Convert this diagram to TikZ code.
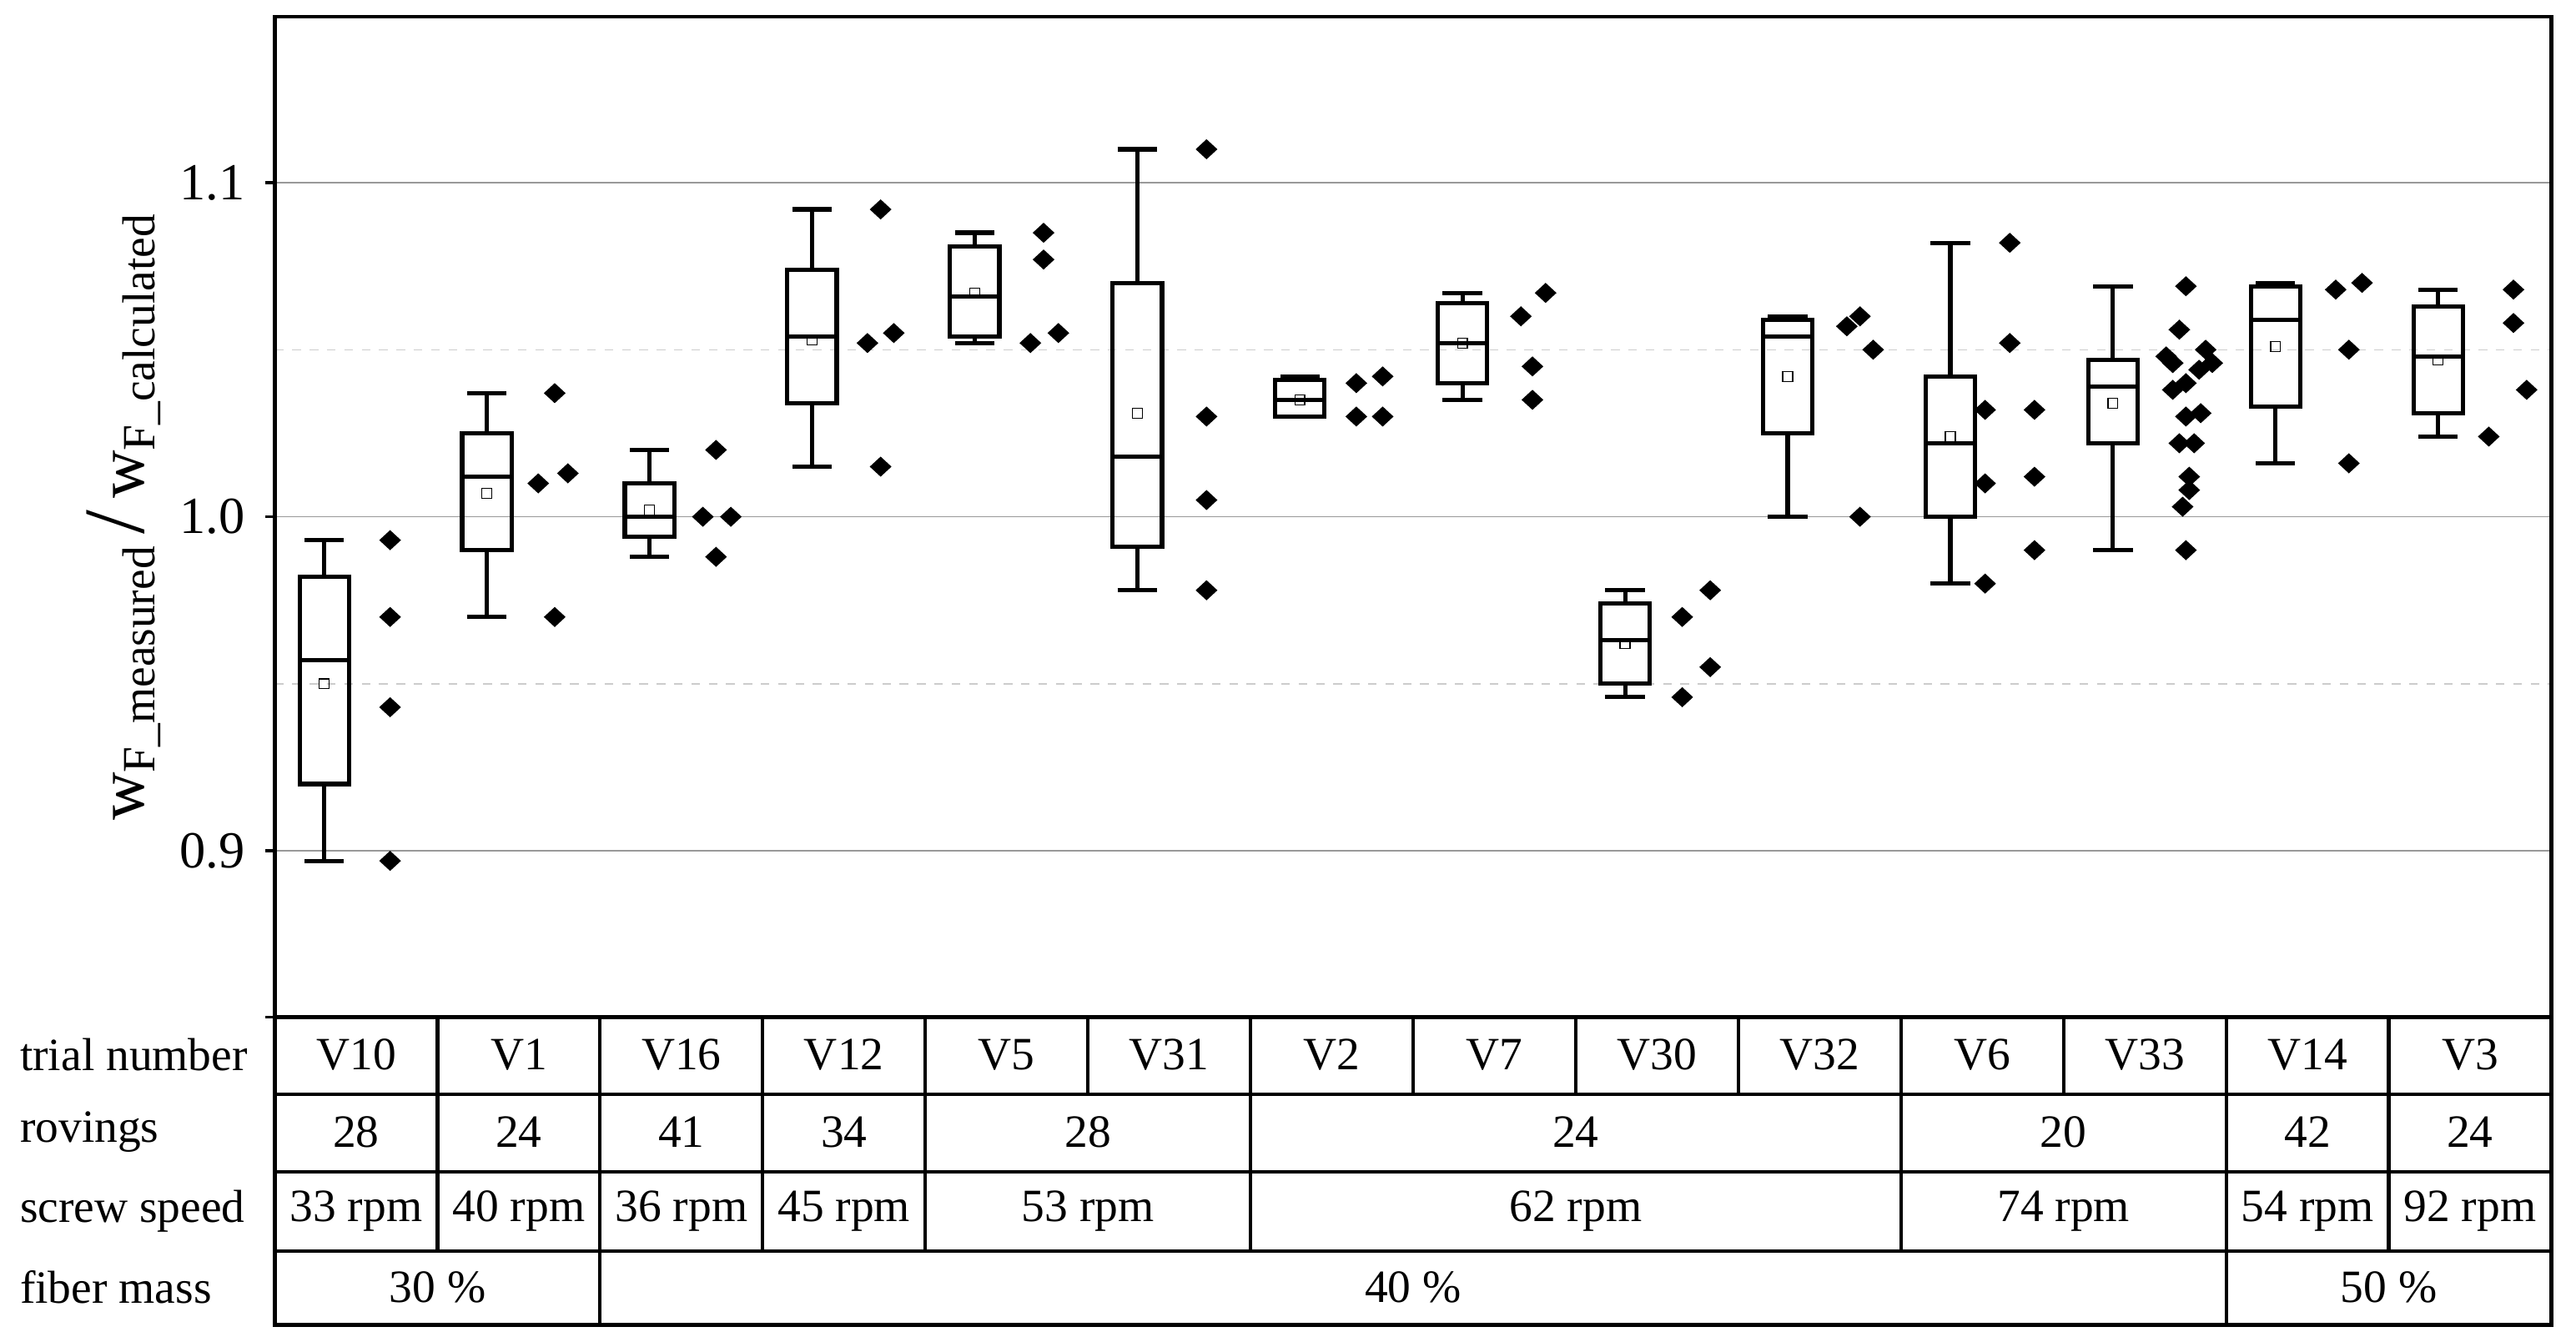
\documentclass[tikz,border=0pt]{standalone}
\usepackage{fontspec}
\setmainfont{Liberation Serif}
\usetikzlibrary{shapes.geometric}
\begin{document}
\begin{tikzpicture}[x=0.02cm,y=0.02cm,
  declare function={vy(\v)=-314+(\v-1)*2030;},
  dia/.style={diamond,fill=black,inner sep=0pt,minimum width=0.27cm,minimum height=0.25cm},
  bxl/.style={line width=1.5pt},
  cell/.style={font=\fontsize{16}{18}\selectfont},
  tick/.style={font=\fontsize{18}{20}\selectfont,anchor=east}]
\useasboundingbox (0,0) rectangle (1565,-815);
\def\L{167}\def\R{1550}\def\W{98.7857}
% grid
\foreach \v in {0.9,1.0,1.1}{\draw[gray!80,line width=0.5pt] (\L,{vy(\v)}) -- (\R,{vy(\v)});}
\foreach \v in {0.95,1.05}{\draw[gray!40,dashed,line width=0.4pt] (\L,{vy(\v)}) -- (\R,{vy(\v)});}
\foreach \v in {0.9,1.0,1.1}{\node[tick] at (155,{vy(\v)}) {\v};
  \draw[line width=1pt] (\L,{vy(\v)}) -- (\L-6,{vy(\v)});}
\draw[line width=1pt] (\L,-618) -- (\L-6,-618);
% axis label
\node[rotate=90] (yl) at (75,-314) {\fontsize{23}{25}\selectfont w\textsubscript{\fontsize{16}{16}\selectfont F\_measured}\,{\fontsize{30}{30}\selectfont/}\,w\textsubscript{\fontsize{16}{16}\selectfont F\_calculated}};
% frame
\draw[line width=1.2pt] (\L,-10) -- (\R,-10) -- (\R,-805) -- (\L,-805) -- cycle;
\foreach \y in {618,665,712,760}{\draw[line width=1.2pt] (\L,-\y) -- (\R,-\y);}
% table verticals
\foreach \i in {1,...,13}{\draw[line width=1.2pt] (\L+\i*\W,-618) -- (\L+\i*\W,-665);}
\foreach \i in {1,2,3,4,6,10,12,13}{\draw[line width=1.2pt] (\L+\i*\W,-665) -- (\L+\i*\W,-760);}
\foreach \i in {2,12}{\draw[line width=1.2pt] (\L+\i*\W,-760) -- (\L+\i*\W,-805);}
% row labels
\foreach \t/\y in {trial number/641,rovings/688,screw speed/736,fiber mass/782}{\node[cell,anchor=west] at (6,-\y) {\t};}
\foreach \t [count=\i from 0] in {V10,V1,V16,V12,V5,V31,V2,V7,V30,V32,V6,V33,V14,V3}{\node[cell] (tn\i) at (\L+\i*\W+\W/2,-641) {\t};}
\foreach \a/\b/\t in {0/1/28,1/2/24,2/3/41,3/4/34,4/6/28,6/10/24,10/12/20,12/13/42,13/14/24}{\node[cell] at (\L+\a*\W/2+\b*\W/2,-688) {\t};}
\foreach \a/\b/\t in {0/1/33 rpm,1/2/40 rpm,2/3/36 rpm,3/4/45 rpm,4/6/53 rpm,6/10/62 rpm,10/12/74 rpm,12/13/54 rpm,13/14/92 rpm}{\node[cell] at (\L+\a*\W/2+\b*\W/2,-736) {\t};}
\foreach \a/\b/\t in {0/2/30 \%,2/12/40 \%,12/14/50 \%}{\node[cell] at (\L+\a*\W/2+\b*\W/2,-782) {\t};}
% boxes: col, wlo, whi, blo, bhi, med, mean
\newcommand\bp[7]{%
  \pgfmathsetmacro\cx{\L+#1*\W+30}%
  \draw[bxl] (\cx,{vy(#2)}) -- (\cx,{vy(#4)}) (\cx,{vy(#5)}) -- (\cx,{vy(#3)});
  \draw[bxl] (\cx-12,{vy(#2)}) -- (\cx+12,{vy(#2)}) (\cx-12,{vy(#3)}) -- (\cx+12,{vy(#3)});
  \draw[bxl] (\cx-15,{vy(#4)}) rectangle (\cx+15,{vy(#5)});
  \draw[bxl] (\cx-15,{vy(#6)}) -- (\cx+15,{vy(#6)});
  \draw[line width=0.4pt] (\cx-3,{vy(#7)-3}) rectangle (\cx+3,{vy(#7)+3});}
\bp{0}{0.897}{0.993}{0.920}{0.982}{0.957}{0.950}
\bp{1}{0.970}{1.037}{0.990}{1.025}{1.012}{1.007}
\bp{2}{0.988}{1.020}{0.994}{1.010}{1.000}{1.002}
\bp{3}{1.015}{1.092}{1.034}{1.074}{1.054}{1.053}
\bp{4}{1.052}{1.085}{1.054}{1.081}{1.066}{1.067}
\bp{5}{0.978}{1.110}{0.991}{1.070}{1.018}{1.031}
\bp{6}{1.030}{1.042}{1.030}{1.041}{1.035}{1.035}
\bp{7}{1.035}{1.067}{1.040}{1.064}{1.052}{1.052}
\bp{8}{0.946}{0.978}{0.950}{0.974}{0.963}{0.962}
\bp{9}{1.000}{1.060}{1.025}{1.059}{1.054}{1.042}
\bp{10}{0.980}{1.082}{1.000}{1.042}{1.022}{1.024}
\bp{11}{0.990}{1.069}{1.022}{1.047}{1.039}{1.034}
\bp{12}{1.016}{1.070}{1.033}{1.069}{1.059}{1.051}
\bp{13}{1.024}{1.068}{1.031}{1.063}{1.048}{1.047}
% points
\foreach \x/\v in {237/0.993,237/0.970,237/0.943,237/0.897,
 337/1.037,327/1.010,345/1.013,337/0.970,
 435/1.020,427/1.000,444/1.000,435/0.988,
 535/1.092,527/1.052,543/1.055,535/1.015,
 634/1.085,634/1.077,626/1.052,643/1.055,
 733/1.110,733/1.030,733/1.005,733/0.978,
 824/1.040,840/1.042,824/1.030,840/1.030,
 924/1.060,939/1.067,931/1.045,931/1.035,
 1022/0.970,1039/0.978,1039/0.955,1022/0.946,
 1122/1.057,1130/1.060,1138/1.050,1130/1.000,
 1221/1.082,1221/1.052,1206/1.032,1236/1.032,1206/1.010,1236/1.012,1236/0.990,1206/0.980,
 1328/1.069,1324/1.056,1316/1.048,1320/1.046,1340/1.050,1336/1.044,1344/1.046,1320/1.038,1328/1.040,1328/1.030,1337/1.031,1324/1.022,1333/1.022,1330/1.012,1330/1.008,1326/1.003,1328/0.990,
 1419/1.068,1435/1.070,1427/1.050,1427/1.016,
 1527/1.068,1527/1.058,1535/1.038,1512/1.024}
 {\node[dia] at (\x,{vy(\v)}) {};}
\end{tikzpicture}
\end{document}
